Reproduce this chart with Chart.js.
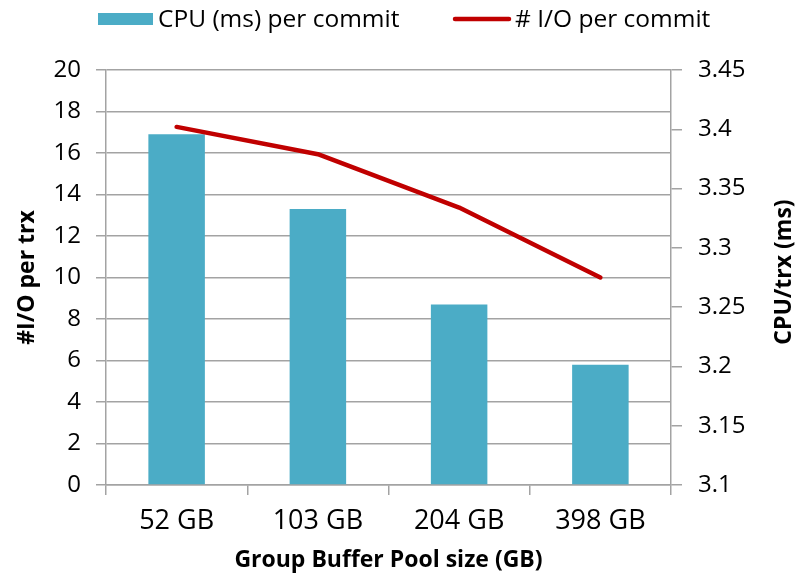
<!DOCTYPE html>
<html>
<head>
<meta charset="utf-8">
<script src="https://cdn.jsdelivr.net/npm/chart.js@4/dist/chart.umd.min.js"></script>
<style>
html,body{margin:0;padding:0;background:#fff;}
#wrap{width:795px;height:574px;}
</style>
</head>
<body>
<div id="wrap"><canvas id="c" width="795" height="574"></canvas></div>
<script>
// ---- data ----
const categories = ['52 GB', '103 GB', '204 GB', '398 GB'];
const cpuPerCommit = [16.9, 13.3, 8.7, 5.8];
const ioPerCommit = [3.402, 3.379, 3.334, 3.275];
const leftTicks = [0, 2, 4, 6, 8, 10, 12, 14, 16, 18, 20];
const rightTicks = [3.1, 3.15, 3.2, 3.25, 3.3, 3.35, 3.4, 3.45];
const seriesNames = ['CPU (ms) per commit', '# I/O per commit'];
const xTitle = 'Group Buffer Pool size (GB)';
const leftTitle = '#I/O per trx';
const rightTitle = 'CPU/trx (ms)';

// ---- styles ----
const FONT = "'Open Sans'";
const GRID = '#A3A3A3';
const BAR = '#4BACC6';
const LINE = '#C00000';

const legendPlugin = {
  id: 'refLegend',
  afterDraw(chart) {
    const c = chart.ctx;
    const ds = chart.data.datasets;
    c.save();
    c.font = '24.5px ' + FONT;
    c.textBaseline = 'middle';
    c.textAlign = 'left';
    c.fillStyle = ds[0].backgroundColor;
    c.fillRect(98, 13, 55, 12);
    c.fillStyle = '#000';
    c.fillText(ds[0].label, 158, 20);
    c.strokeStyle = ds[1].borderColor;
    c.lineWidth = 4.5;
    c.lineCap = 'round';
    c.beginPath();
    c.moveTo(455, 19);
    c.lineTo(509, 19);
    c.stroke();
    c.fillText(ds[1].label, 515, 20);
    c.restore();
  }
};

const rightTitlePlugin = {
  id: 'rightTitle',
  afterDraw(chart) {
    const c = chart.ctx;
    c.save();
    c.translate(784, 272);
    c.rotate(-Math.PI / 2);
    c.font = 'bold 23px ' + FONT;
    c.fillStyle = '#000';
    c.textAlign = 'center';
    c.textBaseline = 'middle';
    c.fillText(rightTitle, 0, 0);
    c.restore();
  }
};

new Chart(document.getElementById('c'), {
  type: 'bar',
  data: {
    labels: categories,
    datasets: [
      {
        type: 'bar',
        label: seriesNames[0],
        data: cpuPerCommit,
        backgroundColor: BAR,
        borderWidth: 0,
        yAxisID: 'y',
        barPercentage: 0.4,
        categoryPercentage: 1,
        order: 2
      },
      {
        type: 'line',
        label: seriesNames[1],
        data: ioPerCommit,
        borderColor: LINE,
        backgroundColor: LINE,
        borderWidth: 4.5,
        pointRadius: 0,
        tension: 0,
        borderCapStyle: 'round',
        borderJoinStyle: 'round',
        yAxisID: 'y1',
        order: 1
      }
    ]
  },
  options: {
    responsive: false,
    animation: false,
    devicePixelRatio: 1,
    layout: { padding: { top: 70, left: 0, right: 0, bottom: 0 } },
    plugins: { legend: { display: false }, tooltip: { enabled: false } },
    scales: {
      x: {
        offset: true,
        grid: { offset: true, drawOnChartArea: false, tickLength: 10, color: GRID, lineWidth: 1.5 },
        border: { color: GRID, width: 1.5 },
        ticks: { font: { family: FONT, size: 27 }, color: '#000', padding: 10 },
        title: { display: true, text: xTitle, font: { family: FONT, size: 23, weight: 'bold' }, color: '#000', padding: { top: 0, bottom: 0 } },
        afterFit(s) { s.height = 89; }
      },
      y: {
        position: 'left',
        min: 0,
        max: 20,
        afterBuildTicks(s) { s.ticks = leftTicks.map(v => ({ value: v })); },
        grid: { color: GRID, lineWidth: 1.5, tickLength: 10 },
        border: { color: GRID, width: 1.5 },
        ticks: { font: { family: FONT, size: 24 }, color: '#000', padding: 15, callback: v => String(v) },
        title: { display: true, text: leftTitle, font: { family: FONT, size: 23, weight: 'bold' }, color: '#000', padding: { top: 14, bottom: 0 } },
        afterFit(s) { s.width = 106; }
      },
      y1: {
        position: 'right',
        min: 3.1,
        max: 3.45,
        afterBuildTicks(s) { s.ticks = rightTicks.map(v => ({ value: v })); },
        grid: { drawOnChartArea: false, color: GRID, lineWidth: 1.5, tickLength: 11 },
        border: { color: GRID, width: 1.5 },
        ticks: { font: { family: FONT, size: 24 }, color: '#000', padding: 16, callback: v => String(v) },
        afterFit(s) { s.width = 124; }
      }
    }
  },
  plugins: [legendPlugin, rightTitlePlugin]
});
</script>
</body>
</html>
